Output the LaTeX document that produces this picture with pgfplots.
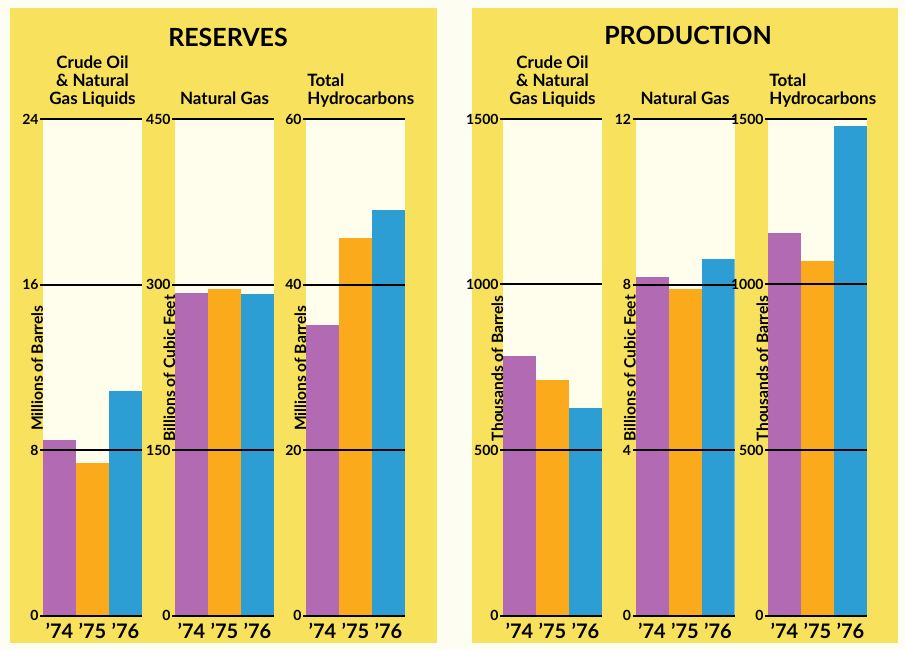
\documentclass[border=0pt]{standalone}
\usepackage{fontspec}
\setmainfont{Lato}
\usepackage{pgfplots}
\pgfplotsset{compat=1.18}
\definecolor{panel}{HTML}{F8E15C}
\definecolor{cream}{HTML}{FFFDEB}
\definecolor{bg}{HTML}{FEFDF2}
\definecolor{cpur}{HTML}{B26BB3}
\definecolor{corg}{HTML}{FAAA1A}
\definecolor{cblu}{HTML}{2C9ED4}
\pgfplotsset{
 panelax/.style={
  scale only axis, width=49.5pt, height=248.25pt,
  anchor=south west,
  xmin=-0.5, xmax=2.5, ymin=0,
  xtick={0,1,2}, xticklabels={’74,’75,’76},
  axis on top,
  axis background/.style={fill=cream},
  axis line style={draw=none},
  ymajorgrids, major grid style={black, line width=1pt},
  tick align=outside, ytick pos=left,
  major tick length=1.5pt,
  xtick style={draw=none},
  ytick style={black, line width=1pt},
  scaled y ticks=false,
  /pgf/number format/1000 sep={},
  /pgf/number format/assume math mode=true,
  yticklabel style={font=\fontsize{7}{8}\selectfont\bfseries, inner sep=0.5pt},
  xticklabel style={font=\fontsize{10}{11}\selectfont\bfseries, inner sep=0pt, yshift=-2pt},
  ylabel style={at={(axis description cs:0,0.5)}, anchor=base, rotate=0, inner sep=0pt, xshift=-0.5pt, font=\fontsize{7.8}{8}\selectfont\bfseries},
  every axis plot/.append style={ybar, bar width=1, bar shift=0pt, draw=none},
 },
 ctitle/.style={title style={at={(axis description cs:0.5,1)}, anchor=south, align=center, text depth=0pt, inner sep=0pt, yshift=1pt, font=\fontsize{8.5}{9}\selectfont\bfseries}},
 ltitle/.style={title style={at={(axis description cs:0,1)}, anchor=south west, align=left, text depth=0pt, inner sep=0pt, xshift=0.5pt, yshift=1pt, font=\fontsize{8.5}{9}\selectfont\bfseries}},
}
\begin{document}
\begin{tikzpicture}
\fill[bg] (0,0) rectangle (452.5pt,324.5pt);
\fill[panel] (5pt,3pt) rectangle (218.5pt,320.5pt);
\fill[panel] (236pt,3pt) rectangle (449pt,320.5pt);
\node[font=\fontsize{12.5}{14}\selectfont\bfseries, anchor=base] at (114pt,301pt) {RESERVES};
\node[font=\fontsize{12.5}{14}\selectfont\bfseries, anchor=base] at (344pt,302pt) {PRODUCTION};

% Reserves: crude oil
\begin{axis}[panelax, ctitle, at={(21.5pt,16.75pt)}, ymax=24, ytick={0,8,16,24},
  ylabel={Millions of Barrels}, title={Crude Oil\\\& Natural\\Gas Liquids}]
\addplot[fill=cpur] coordinates {(0,8.48)};
\addplot[fill=corg] coordinates {(1,7.37)};
\addplot[fill=cblu] coordinates {(2,10.85)};
\end{axis}
% Reserves: natural gas
\begin{axis}[panelax, ctitle, at={(87.5pt,16.75pt)}, ymax=450, ytick={0,150,300,450},
  ylabel={Billions of Cubic Feet}, title={Natural Gas}]
\addplot[fill=cpur] coordinates {(0,292)};
\addplot[fill=corg] coordinates {(1,295.7)};
\addplot[fill=cblu] coordinates {(2,291.4)};
\end{axis}
% Reserves: total
\begin{axis}[panelax, ltitle, at={(153pt,16.75pt)}, ymax=60, ytick={0,20,40,60},
  ylabel={Millions of Barrels}, title={Total\\Hydrocarbons}]
\addplot[fill=cpur] coordinates {(0,35.1)};
\addplot[fill=corg] coordinates {(1,45.65)};
\addplot[fill=cblu] coordinates {(2,49.0)};
\end{axis}

% Production: crude oil
\begin{axis}[panelax, ctitle, at={(251.5pt,16.75pt)}, ymax=1500, ytick={0,500,1000,1500},
  ylabel={Thousands of Barrels}, title={Crude Oil\\\& Natural\\Gas Liquids}]
\addplot[fill=cpur] coordinates {(0,784)};
\addplot[fill=corg] coordinates {(1,711.5)};
\addplot[fill=cblu] coordinates {(2,626)};
\end{axis}
% Production: natural gas
\begin{axis}[panelax, ctitle, at={(317.75pt,16.75pt)}, ymax=12, ytick={0,4,8,12},
  ylabel={Billions of Cubic Feet}, title={Natural Gas}]
\addplot[fill=cpur] coordinates {(0,8.17)};
\addplot[fill=corg] coordinates {(1,7.89)};
\addplot[fill=cblu] coordinates {(2,8.61)};
\end{axis}
% Production: total
\begin{axis}[panelax, ltitle, at={(384pt,16.75pt)}, ymax=1500, ytick={0,500,1000,1500},
  ylabel={Thousands of Barrels}, title={Total\\Hydrocarbons}]
\addplot[fill=cpur] coordinates {(0,1154.7)};
\addplot[fill=corg] coordinates {(1,1071)};
\addplot[fill=cblu] coordinates {(2,1479)};
\end{axis}
\end{tikzpicture}
\end{document}
